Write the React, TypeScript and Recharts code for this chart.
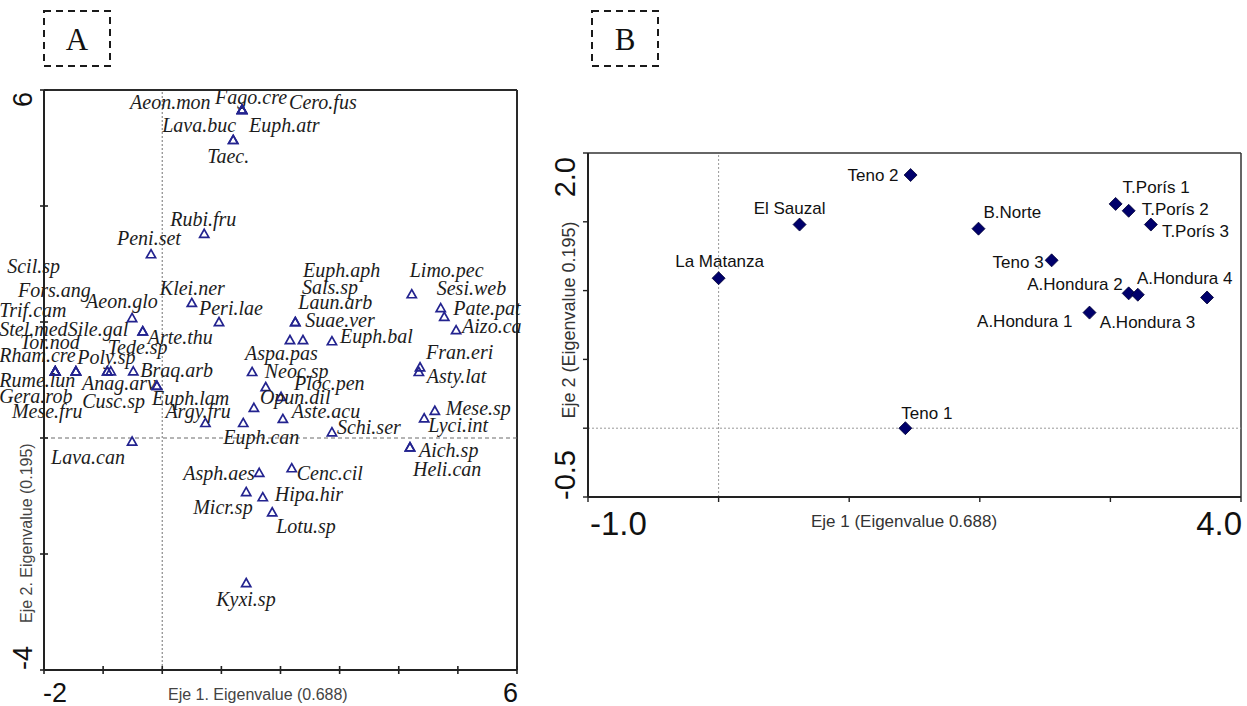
import React from 'react';
import { ScatterChart, Scatter, XAxis, YAxis, ReferenceLine, Label } from 'recharts';

// ---------- Panel A: species scores (CCA axes 1 and 2) ----------
const speciesA = [
  'Aeon.mon', 'Fago.cre', 'Cero.fus', 'Euph.atr', 'Lava.buc', 'Taec.',
  'Rubi.fru', 'Peni.set', 'Aeon.glo', 'Arte.thu', 'Sile.gal', 'Klei.ner', 'Peri.lae',
  'Scil.sp', 'Trif.cam', 'Stel.med', 'Rham.cre', 'Rume.lun', 'Gera.rob',
  'Fors.ang', 'Tor.nod', 'Mese.fru', 'Poly.sp', 'Cusc.sp', 'Tede.sp', 'Braq.arb',
  'Anag.arv', 'Euph.lam', 'Lava.can', 'Argy.fru', 'Euph.can', 'Aspa.pas', 'Neoc.sp',
  'Ploc.pen', 'Opun.dil', 'Aste.acu', 'Schi.ser', 'Suae.ver', 'Laun.arb', 'Euph.aph',
  'Sals.sp', 'Euph.bal', 'Limo.pec', 'Sesi.web', 'Pate.pat', 'Aizo.ca', 'Fran.eri',
  'Asty.lat', 'Mese.sp', 'Lyci.int', 'Aich.sp', 'Heli.can', 'Asph.aes', 'Cenc.cil',
  'Micr.sp', 'Hipa.hir', 'Lotu.sp', 'Kyxi.sp',
];
const eje1A = [
  1.35, 1.35, 1.35, 1.35, 1.2, 1.2,
  0.71, -0.19, -0.51, -0.33, -0.33, 0.5, 0.96,
  -1.81, -1.81, -1.81, -1.81, -1.81, -1.81,
  -1.46, -1.46, -1.46, -0.93, -0.93, -0.87, -0.49,
  -0.09, -0.09, -0.51, 0.73, 1.37, 1.52, 1.75,
  2.01, 1.55, 2.04, 2.87, 2.25, 2.25, 2.16,
  2.38, 2.87, 4.22, 4.71, 4.77, 4.97, 4.36,
  4.34, 4.61, 4.43, 4.19, 4.19, 1.64, 2.19,
  1.42, 1.7, 1.86, 1.42,
];
const eje2A = [
  5.66, 5.66, 5.66, 5.66, 5.14, 5.14,
  3.52, 3.17, 2.07, 1.84, 1.84, 2.33, 2.0,
  1.15, 1.15, 1.15, 1.15, 1.15, 1.15,
  1.15, 1.15, 1.15, 1.15, 1.15, 1.15, 1.15,
  0.9, 0.9, -0.06, 0.26, 0.26, 1.14, 0.88,
  0.71, 0.52, 0.33, 0.1, 2.0, 2.0, 1.69,
  1.69, 1.67, 2.48, 2.24, 2.09, 1.86, 1.22,
  1.14, 0.47, 0.34, -0.16, -0.16, -0.6, -0.52,
  -0.93, -1.02, -1.28, -2.5,
];
const ticksAx = [-2, -1, 0, 1, 2, 3, 4, 5, 6];
const ticksAy = [-4, -2, 0, 2, 4, 6];

// ---------- Panel B: site scores ----------
const sitesB = [
  'La Matanza', 'El Sauzal', 'Teno 1', 'Teno 2', 'Teno 3', 'B.Norte',
  'A.Hondura 1', 'A.Hondura 2', 'A.Hondura 3', 'A.Hondura 4',
  'T.Porís 1', 'T.Porís 2', 'T.Porís 3',
];
const eje1B = [0.0, 0.62, 1.43, 1.47, 2.55, 1.99, 2.84, 3.14, 3.21, 3.74, 3.04, 3.14, 3.31];
const eje2B = [1.09, 1.48, 0.0, 1.84, 1.22, 1.45, 0.84, 0.98, 0.97, 0.95, 1.63, 1.58, 1.48];
const ticksBx = [-1, 0, 1, 2, 3, 4];
const ticksBy = [-0.5, 0, 0.5, 1, 1.5, 2];

const speciesData = speciesA.map((name, i) => ({ name, x: eje1A[i], y: eje2A[i] }));
const siteData = sitesB.map((name, i) => ({ name, x: eje1B[i], y: eje2B[i] }));

// label placement (px offset from the marker, text starts at the anchor)
const speciesLabelOffset: Record<string, [number, number]> = {
  'Aeon.mon': [-112, -1], 'Fago.cre': [-27, -6], 'Cero.fus': [47, -1], 'Euph.atr': [7, 22],
  'Lava.buc': [-71, -8], 'Taec.': [-26, 23], 'Rubi.fru': [-34, -8], 'Peni.set': [-34, -9],
  'Aeon.glo': [-46, -10], 'Arte.thu': [5, 13], 'Sile.gal': [-75, 5], 'Klei.ner': [-32, -8],
  'Peri.lae': [-20, -7], 'Scil.sp': [-48, -98], 'Trif.cam': [-56, -54], 'Stel.med': [-56, -35],
  'Rham.cre': [-56, -9], 'Rume.lun': [-56, 16], 'Gera.rob': [-56, 32], 'Fors.ang': [-58, -74],
  'Tor.nod': [-56, -22], 'Mese.fru': [-64, 47], 'Poly.sp': [-30, -7], 'Cusc.sp': [-25, 37],
  'Tede.sp': [-3, -17], 'Braq.arb': [7, 6], 'Anag.arv': [-75, 4], 'Euph.lam': [-5, 19],
  'Lava.can': [-81, 23], 'Argy.fru': [-40, -5], 'Euph.can': [-20, 21], 'Aspa.pas': [-7, -12],
  'Neoc.sp': [-1, -9], 'Ploc.pen': [13, -7], 'Opun.dil': [6, -4], 'Aste.acu': [9, -1],
  'Schi.ser': [5, 2], 'Suae.ver': [10, 5], 'Laun.arb': [3, -13], 'Euph.aph': [13, -63],
  'Sals.sp': [-1, -46], 'Euph.bal': [8, 2], 'Limo.pec': [-2, -17], 'Sesi.web': [-4, -13],
  'Pate.pat': [9, -2], 'Aizo.ca': [6, 3], 'Fran.eri': [6, -8], 'Asty.lat': [8, 11],
  'Mese.sp': [11, 4], 'Lyci.int': [4, 14], 'Aich.sp': [9, 10], 'Heli.can': [3, 29],
  'Asph.aes': [-76, 7], 'Cenc.cil': [5, 12], 'Micr.sp': [-53, 22], 'Hipa.hir': [12, 4],
  'Lotu.sp': [4, 21], 'Kyxi.sp': [-30, 23],
};

const siteLabelOffset: Record<string, [number, number, 'start' | 'middle' | 'end']> = {
  'La Matanza': [1, -11, 'middle'], 'El Sauzal': [-10, -11, 'middle'], 'Teno 1': [-4, -9, 'start'],
  'Teno 2': [-12, 6, 'end'], 'Teno 3': [-8, 8, 'end'], 'B.Norte': [5, -11, 'start'],
  'A.Hondura 1': [-17, 14, 'end'], 'A.Hondura 2': [-6, -3, 'end'], 'A.Hondura 3': [-38, 33, 'start'],
  'A.Hondura 4': [-70, -13, 'start'], 'T.Porís 1': [7, -11, 'start'], 'T.Porís 2': [13, 4, 'start'],
  'T.Porís 3': [11, 12, 'start'],
};

const SERIF = "'Liberation Serif', 'Times New Roman', serif";
const SANS = "'Liberation Sans', Arial, sans-serif";
const NAVY_A = '#23238f';
const NAVY_B = '#00006b';

function SpeciesMark(props: any) {
  const { cx, cy, payload } = props;
  const [dx, dy] = speciesLabelOffset[payload.name] ?? [6, 4];
  return (
    <g>
      <path
        d={`M${cx},${cy - 4.5} L${cx + 4.6},${cy + 3.6} L${cx - 4.6},${cy + 3.6} Z`}
        fill="none"
        stroke={NAVY_A}
        strokeWidth={1.7}
        strokeLinejoin="miter"
      />
      <text x={cx + dx} y={cy + dy} fontFamily={SERIF} fontStyle="italic" fontSize={20} fill="#1c1c1c">
        {payload.name}
      </text>
    </g>
  );
}

function SiteMark(props: any) {
  const { cx, cy, payload } = props;
  const [dx, dy, anchor] = siteLabelOffset[payload.name] ?? [6, -6, 'start'];
  return (
    <g>
      <path
        d={`M${cx},${cy - 6.5} L${cx + 6.5},${cy} L${cx},${cy + 6.5} L${cx - 6.5},${cy} Z`}
        fill={NAVY_B}
        stroke="#000033"
        strokeWidth={0.8}
      />
      <text x={cx + dx} y={cy + dy} textAnchor={anchor} fontFamily={SANS} fontSize={17} fill="#111">
        {payload.name}
      </text>
    </g>
  );
}

// Panel A axes: ticks cross the axis line, only the end values are labelled
const A_TICK = 4;
const A_MARGIN = 8;

function TickAx(props: any) {
  const { x, y, payload } = props;
  const axisY = y - A_TICK - A_MARGIN;
  const v = payload.value;
  return (
    <g>
      <line x1={x} x2={x} y1={axisY} y2={axisY - A_TICK} stroke="#222" strokeWidth={1.6} />
      {v === -2 && (
        <text x={x - 1} y={y + 20} textAnchor="start" fontFamily={SANS} fontSize={27} fill="#111">
          -2
        </text>
      )}
      {v === 6 && (
        <text x={x + 1} y={y + 20} textAnchor="end" fontFamily={SANS} fontSize={27} fill="#111">
          6
        </text>
      )}
    </g>
  );
}

function TickAy(props: any) {
  const { x, y, payload } = props;
  const axisX = x + A_TICK + A_MARGIN;
  const v = payload.value;
  return (
    <g>
      <line x1={axisX} x2={axisX + A_TICK} y1={y} y2={y} stroke="#222" strokeWidth={1.6} />
      {v === 6 && (
        <text x={x} y={y + 2} transform={`rotate(-90 ${x} ${y + 2})`} textAnchor="end"
          fontFamily={SANS} fontSize={27} fill="#111">
          6
        </text>
      )}
      {v === -4 && (
        <text x={x} y={y} transform={`rotate(-90 ${x} ${y})`} textAnchor="start"
          fontFamily={SANS} fontSize={27} fill="#111">
          -4
        </text>
      )}
    </g>
  );
}

// Panel B axes: outward ticks, end values labelled
function TickBx(props: any) {
  const { x, y, payload } = props;
  const v = payload.value;
  if (v === -1) {
    return (
      <text x={x + 2} y={y + 27} textAnchor="start" fontFamily={SANS} fontSize={33} fill="#111">
        -1.0
      </text>
    );
  }
  if (v === 4) {
    return (
      <text x={x + 1} y={y + 27} textAnchor="end" fontFamily={SANS} fontSize={33} fill="#111">
        4.0
      </text>
    );
  }
  return <g />;
}

function TickBy(props: any) {
  const { x, y, payload } = props;
  const v = payload.value;
  if (v === 2) {
    return (
      <text x={x} y={y + 4} transform={`rotate(-90 ${x} ${y + 4})`} textAnchor="end"
        fontFamily={SANS} fontSize={29} fill="#111">
        2.0
      </text>
    );
  }
  if (v === -0.5) {
    return (
      <text x={x} y={y + 3} transform={`rotate(-90 ${x} ${y + 3})`} textAnchor="start"
        fontFamily={SANS} fontSize={29} fill="#111">
        -0.5
      </text>
    );
  }
  return <g />;
}

function PanelTag({ letter, left }: { letter: string; left: number }) {
  return (
    <svg style={{ position: 'absolute', left, top: 10 }} width={70} height={60}>
      <rect x={1} y={1} width={66} height={55} fill="none" stroke="#1a1a1a" strokeWidth={2}
        strokeDasharray="7 5" />
      <text x={34} y={40} textAnchor="middle" fontFamily={SERIF} fontSize={31} fill="#111">
        {letter}
      </text>
    </svg>
  );
}

export default function App() {
  return (
    <div style={{ position: 'absolute', left: 0, top: 0, width: 1247, height: 706, background: '#fff' }}>
      <PanelTag letter="A" left={43} />
      <PanelTag letter="B" left={591} />

      <div style={{ position: 'absolute', left: 0, top: 0 }}>
        <ScatterChart width={540} height={706} margin={{ top: 90, right: 23, bottom: 6, left: 14 }}>
          <XAxis
            type="number"
            dataKey="x"
            domain={[-2, 6]}
            ticks={ticksAx}
            interval={0}
            height={30}
            tickSize={A_TICK}
            tickMargin={A_MARGIN}
            axisLine={{ stroke: '#222', strokeWidth: 2 }}
            tickLine={{ stroke: '#222', strokeWidth: 1.6 }}
            tick={<TickAx />}
          >
            <Label
              content={(p: any) => {
                const vb = p.viewBox ?? { x: 44, y: 670 };
                return (
                  <text x={vb.x + 124} y={vb.y + 30} fontFamily={SANS} fontSize={16} fill="#444">
                    Eje 1. Eigenvalue (0.688)
                  </text>
                );
              }}
            />
          </XAxis>
          <YAxis
            type="number"
            dataKey="y"
            domain={[-4, 6]}
            ticks={ticksAy}
            interval={0}
            width={30}
            tickSize={A_TICK}
            tickMargin={A_MARGIN}
            axisLine={{ stroke: '#222', strokeWidth: 2 }}
            tickLine={{ stroke: '#222', strokeWidth: 1.6 }}
            tick={<TickAy />}
          >
            <Label
              content={(p: any) => {
                const vb = p.viewBox ?? { x: 14, y: 90 };
                const tx = vb.x + 18;
                const ty = vb.y + 533;
                return (
                  <text x={tx} y={ty} transform={`rotate(-90 ${tx} ${ty})`} fontFamily={SANS}
                    fontSize={16} fill="#444">
                    Eje 2. Eigenvalue (0.195)
                  </text>
                );
              }}
            />
          </YAxis>
          <ReferenceLine y={6} stroke="#2a2a2a" strokeWidth={2} />
          <ReferenceLine x={6} stroke="#2a2a2a" strokeWidth={2} />
          <ReferenceLine x={0} stroke="#8a8a8a" strokeWidth={1.2} strokeDasharray="2 2" />
          <ReferenceLine y={0} stroke="#6a6a6a" strokeWidth={1} strokeDasharray="4 3" />
          <Scatter data={speciesData} shape={<SpeciesMark />} isAnimationActive={false} />
        </ScatterChart>
      </div>

      <div style={{ position: 'absolute', left: 540, top: 0 }}>
        <ScatterChart width={707} height={560} margin={{ top: 153, right: 6, bottom: 13, left: 8 }}>
          <XAxis
            type="number"
            dataKey="x"
            domain={[-1, 4]}
            ticks={ticksBx}
            interval={0}
            height={50}
            tickSize={5}
            tickMargin={6}
            axisLine={{ stroke: '#222', strokeWidth: 2 }}
            tickLine={{ stroke: '#222', strokeWidth: 1.4 }}
            tick={<TickBx />}
          >
            <Label
              content={(p: any) => {
                const vb = p.viewBox ?? { x: 588, y: 497 };
                return (
                  <text x={vb.x + 316} y={vb.y + 30} textAnchor="middle" fontFamily={SANS} fontSize={17}
                    fill="#333">
                    Eje 1 (Eigenvalue 0.688)
                  </text>
                );
              }}
            />
          </XAxis>
          <YAxis
            type="number"
            dataKey="y"
            domain={[-0.5, 2]}
            ticks={ticksBy}
            interval={0}
            width={40}
            tickSize={5}
            tickMargin={8}
            axisLine={{ stroke: '#222', strokeWidth: 2 }}
            tickLine={{ stroke: '#222', strokeWidth: 1.4 }}
            tick={<TickBy />}
          >
            <Label
              content={(p: any) => {
                const vb = p.viewBox ?? { x: 8, y: 153 };
                const tx = vb.x + 27;
                const ty = vb.y + 167;
                return (
                  <text x={tx} y={ty} transform={`rotate(-90 ${tx} ${ty})`} textAnchor="middle"
                    fontFamily={SANS} fontSize={18} fill="#333">
                    Eje 2 (Eigenvalue 0.195)
                  </text>
                );
              }}
            />
          </YAxis>
          <ReferenceLine y={2} stroke="#333" strokeWidth={1.5} />
          <ReferenceLine x={4} stroke="#333" strokeWidth={1.5} />
          <ReferenceLine x={0} stroke="#999" strokeWidth={1} strokeDasharray="2 2" />
          <ReferenceLine y={0} stroke="#999" strokeWidth={1} strokeDasharray="2 2" />
          <Scatter data={siteData} shape={<SiteMark />} isAnimationActive={false} />
        </ScatterChart>
      </div>
    </div>
  );
}
